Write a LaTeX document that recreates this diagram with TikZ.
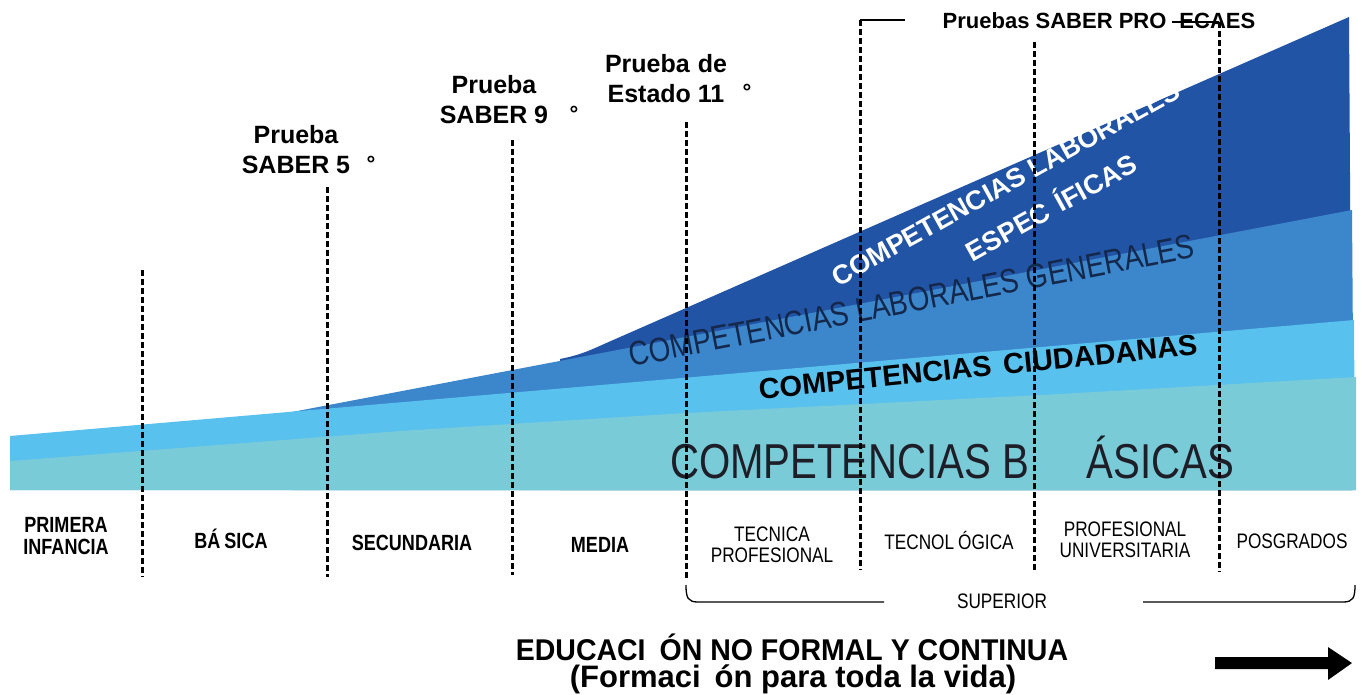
\documentclass[tikz,border=0pt]{standalone}
\usepackage{fontspec}
\setmainfont{Liberation Sans}
\newfontfamily\nar[FakeStretch=0.82]{Liberation Sans}
\newfontfamily\nartitle[FakeStretch=0.95]{Liberation Sans}
\definecolor{layteal}{HTML}{7ACBD8}
\definecolor{laylight}{HTML}{59C1EE}
\definecolor{laymed}{HTML}{3C86CC}
\definecolor{laydark}{HTML}{2254A6}
\definecolor{navytext}{HTML}{14284B}
\definecolor{graytext}{HTML}{1E1E28}
\tikzset{
  testlbl/.style={font=\bfseries\fontsize{25}{30}\selectfont, align=center, inner sep=0pt},
  deglbl/.style={font=\bfseries\fontsize{22}{26}\selectfont, inner sep=0pt, anchor=north},
  stagebold/.style={font=\nar\bfseries\fontsize{22}{22}\selectfont, align=center, inner sep=0pt},
  stagereg/.style={font=\nar\fontsize{21}{21}\selectfont, align=center, inner sep=0pt},
  vdiv/.style={line width=3pt, dash pattern=on 6pt off 3pt},
  thinline/.style={line width=1.3pt},
}
\begin{document}
\begin{tikzpicture}[x=1pt,y=-1pt]
\useasboundingbox (0,0) rectangle (1363,694);
\fill[white] (0,0) rectangle (1363,694);

% layers (back to front)
\fill[laydark] (560,359) .. controls (585,354) and (592,349) .. (620,337) -- (1349,17) -- (1352,490) -- (560,490) -- cycle;
\fill[laymed] (292,412) -- (1352,210) -- (1354,490) -- (292,490) -- cycle;
\fill[laylight] (10,436) -- (1354,320) -- (1355,490) -- (10,490) -- cycle;
\fill[layteal] (10,461) -- (400,431) -- (686,413) -- (1060,394) -- (1356,377) -- (1356,490) -- (10,490) -- cycle;

% layer texts
\node[font=\nar\fontsize{49}{49}\selectfont, text=graytext, inner sep=0pt, anchor=base] (basicas) at (952,478) {COMPETENCIAS B\hspace{57pt}ÁSICAS};
\node[font=\bfseries\fontsize{29}{29}\selectfont, text=black, inner sep=0pt, anchor=base, rotate=5.8] (ciud) at (979,377) {COMPETENCIAS\hspace{12pt}CIUDADANAS};
\node[font=\nar\fontsize{34}{34}\selectfont, text=navytext, inner sep=0pt, anchor=base, rotate=11] (gener) at (914,312) {COMPETENCIAS LABORALES GENERALES};
\node[font=\bfseries\fontsize{27}{27}\selectfont, text=white, inner sep=0pt, anchor=base, rotate=29] (espec1) at (1010,192) {COMPETENCIAS LABORALES};
\node[font=\bfseries\fontsize{27}{27}\selectfont, text=white, inner sep=0pt, anchor=base, rotate=29] (espec2) at (1056,216) {ESPEC\hspace{10pt}ÍFICAS};

% test labels
\node[testlbl] (p5) at (296,150) {Prueba\\SABER 5};
\node[deglbl] (d5) at (371,156) {°};
\node[testlbl] (p9) at (494,100) {Prueba\\SABER 9};
\node[deglbl] (d9) at (574,106) {°};
\node[testlbl] (p11) at (666,79) {Prueba\hspace{8pt}de\\Estado 11};
\node[deglbl] (d11) at (747,84) {°};
\node[font=\bfseries\fontsize{22}{22}\selectfont, inner sep=0pt] (pro) at (1099,21) {Pruebas SABER PRO\hspace{13pt}ECAES};
\coordinate (tb1) at (860,20);
\coordinate (tb2) at (905,20);
\coordinate (tb3) at (1172,22);
\coordinate (tb4) at (1219,22);
\draw[thinline] (tb1) -- (tb2);
\draw[thinline] (tb3) -- (tb4);

% stage labels
\node[stagebold] (s1) at (66,536) {PRIMERA\\INFANCIA};
\node[stagebold] (s2) at (231,539) {BÁ\hspace{4pt}SICA};
\node[stagebold] (s3) at (412,543) {SECUNDARIA};
\node[stagebold] (s4) at (600,545) {MEDIA};
\node[stagereg] (s5) at (772,545) {TECNICA\\PROFESIONAL};
\node[stagereg] (s6) at (949,540) {TECNOL\hspace{4pt}ÓGICA};
\node[stagereg] (s7) at (1125,540) {PROFESIONAL\\UNIVERSITARIA};
\node[stagereg] (s8) at (1292,541) {POSGRADOS};
\node[stagereg] (sup) at (1002,601) {SUPERIOR};

% superior bracket
\draw[thinline] (686,585) .. controls (686,598) and (688,602) .. (698,602) -- (884,602);
\draw[thinline] (1143,602) -- (1343,602) .. controls (1353,602) and (1355,598) .. (1355,585);

% dividers
\foreach \xx/\yt/\yb in {142/270/577, 327/187/577, 512/140/575, 686/122/578, 860/20/570, 1034/42/572, 1219/22/572}{
  \draw[vdiv] (\xx,\yt) -- (\xx,\yb);
}

% bottom title
\node[font=\nartitle\bfseries\fontsize{30}{30}\selectfont, inner sep=0pt, anchor=base] (edu) at (792,660) {EDUCACI\hspace{14pt}ÓN NO FORMAL Y CONTINUA};
\node[font=\bfseries\fontsize{31}{31}\selectfont, inner sep=0pt, anchor=base] (form) at (793,687) {(Formaci\hspace{14pt}ón para toda la vida)};

% arrow
\fill[black] (1215,657) -- (1328,657) -- (1328,647) -- (1352,663) -- (1328,680) -- (1328,669) -- (1215,669) -- cycle;
\end{tikzpicture}
\end{document}
